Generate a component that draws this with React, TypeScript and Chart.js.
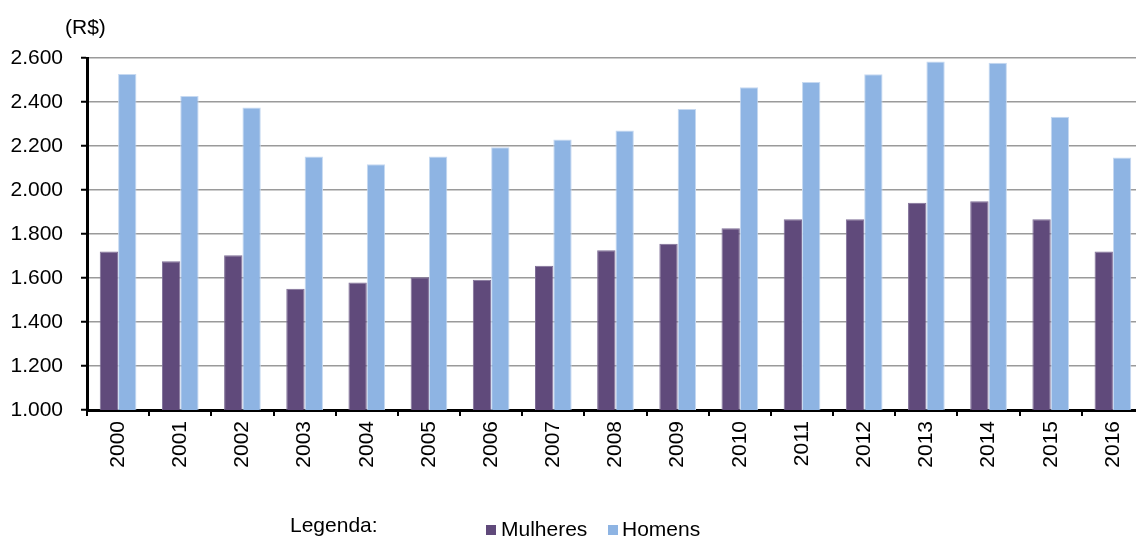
import React, { useEffect, useRef } from "react";
import { Chart, registerables } from "chart.js";

Chart.register(...registerables);

const years = ["2000", "2001", "2002", "2003", "2004", "2005", "2006", "2007", "2008", "2009", "2010", "2011", "2012", "2013", "2014", "2015", "2016"];
const mulheres = [1721, 1676, 1703, 1551, 1580, 1603, 1592, 1656, 1726, 1756, 1826, 1867, 1867, 1942, 1949, 1867, 1721];
const homens = [2527, 2427, 2375, 2152, 2117, 2152, 2194, 2230, 2270, 2368, 2467, 2491, 2526, 2584, 2578, 2333, 2148];
const seriesNames = ["Mulheres", "Homens"];
const yMin = 1000;
const yMax = 2600;
const yStep = 200;
const unitLabel = "(R$)";
const legendTitle = "Legenda:";

const PURPLE = "#604A7B";
const BLUE = "#8EB4E3";
const FONT = "'Liberation Sans', Arial, Helvetica, sans-serif";

function fmt(v: number): string {
  return Math.round(v).toString().replace(/\B(?=(\d{3})+(?!\d))/g, ".");
}

export default function App() {
  const ref = useRef<HTMLCanvasElement | null>(null);

  useEffect(() => {
    if (!ref.current) return;
    Chart.defaults.font.family = FONT;
    const chart = new Chart(ref.current, {
      type: "bar",
      data: {
        labels: years,
        datasets: [
          {
            label: seriesNames[0],
            data: mulheres,
            backgroundColor: PURPLE,
            borderColor: "#7F6F97",
            borderWidth: 1,
            barPercentage: 1,
            categoryPercentage: 0.59,
          },
          {
            label: seriesNames[1],
            data: homens,
            backgroundColor: BLUE,
            borderColor: "#C6D9F1",
            borderWidth: 1,
            barPercentage: 1,
            categoryPercentage: 0.59,
          },
        ],
      },
      options: {
        responsive: false,
        animation: false,
        layout: { padding: { left: 0, top: 58, right: 6, bottom: 66 } },
        plugins: {
          legend: { display: false },
          tooltip: { enabled: false },
        },
        scales: {
          x: {
            ticks: {
              color: "#000",
              font: { size: 21, family: FONT },
              minRotation: 90,
              maxRotation: 90,
              padding: 5,
              autoSkip: false,
            },
            grid: {
              drawOnChartArea: false,
              drawTicks: true,
              tickLength: 6,
              color: "#000",
              tickColor: "#000",
              lineWidth: 2,
            },
            border: { color: "#000", width: 3 },
            afterFit: (s: any) => {
              s.height = 60;
            },
          },
          y: {
            min: yMin,
            max: yMax,
            ticks: {
              stepSize: yStep,
              padding: 18,
              color: "#000",
              font: { size: 21, family: FONT },
              callback: (v: any) => fmt(Number(v)),
            },
            grid: {
              color: "#9a9a9a",
              lineWidth: 1.5,
              tickColor: "#000",
              tickLength: 6,
              tickWidth: 2,
            },
            border: { color: "#000", width: 3 },
            afterFit: (s: any) => {
              s.width = 87;
            },
          },
        },
      },
    });
    return () => chart.destroy();
  }, []);

  const textStyle: React.CSSProperties = {
    position: "absolute",
    fontFamily: FONT,
    fontSize: 21,
    lineHeight: "24px",
    color: "#000",
    whiteSpace: "nowrap",
  };

  return (
    <div
      style={{
        position: "fixed",
        left: 0,
        top: 0,
        width: 1136,
        height: 536,
        overflow: "hidden",
        background: "#fff",
      }}
    >
      <canvas ref={ref} width={1150} height={536} style={{ position: "absolute", left: 0, top: 0 }} />
      <div style={{ ...textStyle, left: 65, top: 15 }}>{unitLabel}</div>
      <div style={{ ...textStyle, left: 290, top: 513 }}>{legendTitle}</div>
      <div style={{ position: "absolute", left: 486, top: 525, width: 10, height: 10, background: PURPLE }} />
      <div style={{ ...textStyle, left: 501, top: 517 }}>{seriesNames[0]}</div>
      <div style={{ position: "absolute", left: 608, top: 525, width: 10, height: 10, background: BLUE }} />
      <div style={{ ...textStyle, left: 622, top: 517 }}>{seriesNames[1]}</div>
    </div>
  );
}
